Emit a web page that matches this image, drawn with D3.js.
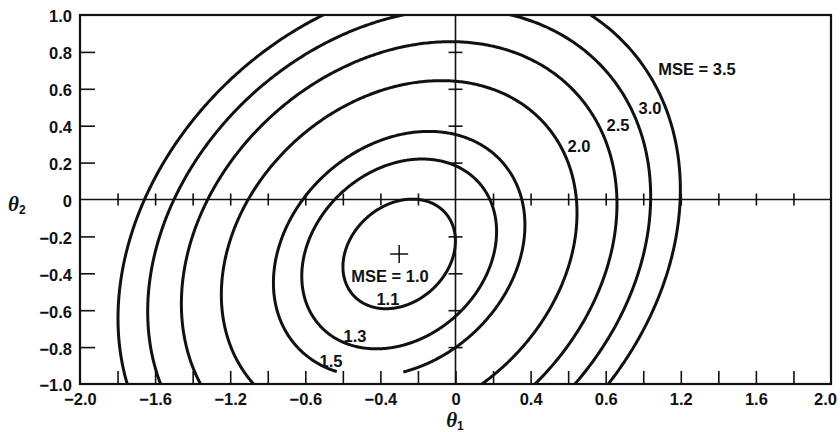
<!DOCTYPE html>
<html>
<head>
<meta charset="utf-8">
<script src="https://cdn.jsdelivr.net/npm/d3@7"></script>
<style>
  html, body { margin: 0; padding: 0; background: #fff; }
  svg { display: block; }
  .lbl { font-family: "Liberation Sans", Arial, Helvetica, sans-serif; font-weight: bold; fill: #111; }
</style>
</head>
<body>
<svg id="chart" width="840" height="432"></svg>
<script>
// Quadratic performance surface: MSE = mseMin + (θ − θ*)ᵀ H (θ − θ*)
const mseMin = 1.0;
const thetaStar = [-0.30, -0.295];
const hessianRow1 = [1.18, -0.28];
const hessianRow2 = [-0.28, 1.20];

// Contour levels drawn on the surface
const contourLevels = [1.1, 1.3, 1.5, 2.0, 2.5, 3.0, 3.5];
// Interrupted stretch of a contour's lower arc: [level, θ1 from, θ1 to]
const contourBreaks = [[1.5, -0.63, -0.28]];

// Contour annotations, anchored in (θ1, θ2)
const contourLabelText = ["MSE = 1.0", "1.1", "1.3", "1.5", "2.0", "2.5", "3.0", "MSE = 3.5"];
const contourLabelTheta1 = [-0.349, -0.36, -0.535, -0.663, 0.658, 0.866, 1.036, 1.286];
const contourLabelTheta2 = [-0.413, -0.538, -0.739, -0.875, 0.288, 0.402, 0.495, 0.707];

// Axis ticks and their printed labels
const xTickValues = [-2.0, -1.6, -1.2, -0.8, -0.4, 0, 0.4, 0.8, 1.2, 1.6, 2.0];
const xTickLabels = ["\u22122.0", "\u22121.6", "\u22121.2", "\u22120.6", "\u22120.4", "0", "0.4", "0.6", "1.2", "1.6", "2.0"];
const yTickValues = [1.0, 0.8, 0.6, 0.4, 0.2, 0, -0.2, -0.4, -0.6, -0.8, -1.0];
const yTickLabels = ["1.0", "0.8", "0.6", "0.4", "0.2", "0", "\u22120.2", "\u22120.4", "\u22120.6", "\u22120.8", "\u22121.0"];

const svg = d3.select("#chart");

const x = d3.scaleLinear().domain([-2, 2]).range([80, 831]);
const y = d3.scaleLinear().domain([-1, 1]).range([384, 15]);

// minor ticks every 0.2 (interior only)
const near = (a, b) => Math.abs(a - b) < 1e-9;
const xMinor = x.ticks(20).filter(v => !near(Math.abs(v), 2));
const xMinorNoZero = xMinor.filter(v => !near(v, 0));
const yMinor = y.ticks(10).filter(v => !near(Math.abs(v), 1) && !near(v, 0));

svg.append("clipPath").attr("id", "plotClip")
  .append("rect")
  .attr("x", x(-2)).attr("y", y(1))
  .attr("width", x(2) - x(-2)).attr("height", y(-1) - y(1));

function styleAxis(g, width) {
  g.select(".domain").remove();
  g.selectAll(".tick line").attr("stroke", "#111").attr("stroke-width", width);
}

// Axis lines through θ1 = 0 and θ2 = 0, with ticks crossing them
const zeroH = svg.append("g");
zeroH.append("line")
  .attr("x1", x(-2)).attr("x2", x(2)).attr("y1", y(0)).attr("y2", y(0))
  .attr("stroke", "#111").attr("stroke-width", 1.6);
zeroH.append("g").attr("transform", `translate(0,${y(0)})`)
  .call(d3.axisBottom(x).tickValues(xMinorNoZero).tickSize(6).tickFormat(""))
  .call(g => styleAxis(g, 1.6));
zeroH.append("g").attr("transform", `translate(0,${y(0)})`)
  .call(d3.axisTop(x).tickValues(xMinorNoZero).tickSize(6).tickFormat(""))
  .call(g => styleAxis(g, 1.6));

const zeroV = svg.append("g");
zeroV.append("line")
  .attr("x1", x(0)).attr("x2", x(0)).attr("y1", y(1)).attr("y2", y(-1))
  .attr("stroke", "#111").attr("stroke-width", 1.6);
zeroV.append("g").attr("transform", `translate(${x(0)},0)`)
  .call(d3.axisLeft(y).tickValues(yMinor).tickSize(7).tickFormat(""))
  .call(g => styleAxis(g, 1.6));
zeroV.append("g").attr("transform", `translate(${x(0)},0)`)
  .call(d3.axisRight(y).tickValues(yMinor).tickSize(7).tickFormat(""))
  .call(g => styleAxis(g, 1.6));

// Inward ticks on the bottom and left edges of the frame
svg.append("g").attr("transform", `translate(0,${y(-1)})`)
  .call(d3.axisTop(x).tickValues(xMinor).tickSize(13).tickFormat(""))
  .call(g => styleAxis(g, 1.6));
svg.append("g").attr("transform", `translate(${x(-2)},0)`)
  .call(d3.axisRight(y).tickValues(yMinor).tickSize(15).tickFormat(""))
  .call(g => styleAxis(g, 1.6));

// Tick labels
const xLab = svg.append("g").attr("transform", `translate(0,${y(-1)})`)
  .call(d3.axisBottom(x).tickValues(xTickValues).tickSize(0).tickPadding(9)
    .tickFormat((d, i) => xTickLabels[i]));
xLab.select(".domain").remove();
xLab.selectAll("text").attr("class", "lbl").attr("font-size", 16.5);
// keep the right-most label inside the page
xLab.selectAll(".tick").filter(d => near(d, 2)).select("text").attr("dx", -6);

const yLab = svg.append("g").attr("transform", `translate(${x(-2)},0)`)
  .call(d3.axisLeft(y).tickValues(yTickValues).tickSize(0).tickPadding(8)
    .tickFormat((d, i) => yTickLabels[i]));
yLab.select(".domain").remove();
yLab.selectAll("text").attr("class", "lbl").attr("font-size", 16.5).attr("dy", "0.42em");

// Contours of constant MSE, traced in polar form around θ*
const [h11, h12] = hessianRow1;
const h22 = hessianRow2[1];
const N = 720;
function contourPoints(level) {
  const k = level - mseMin;
  const pts = [];
  for (let i = 0; i <= N; i++) {
    const phi = (2 * Math.PI * i) / N;
    const c = Math.cos(phi), s = Math.sin(phi);
    const q = h11 * c * c + 2 * h12 * c * s + h22 * s * s;
    const r = Math.sqrt(k / q);
    pts.push([thetaStar[0] + r * c, thetaStar[1] + r * s]);
  }
  return pts;
}
const brk = new Map(contourBreaks.map(b => [b[0], [b[1], b[2]]]));
const contourGroup = svg.append("g").attr("clip-path", "url(#plotClip)");
contourLevels.forEach(level => {
  const gap = brk.get(level);
  const line = d3.line()
    .x(d => x(d[0])).y(d => y(d[1]))
    .defined(d => !(gap && d[1] < thetaStar[1] && d[0] > gap[0] && d[0] < gap[1]));
  contourGroup.append("path")
    .attr("d", line(contourPoints(level)))
    .attr("fill", "none")
    .attr("stroke", "#111")
    .attr("stroke-width", 3)
    .attr("stroke-linejoin", "round");
});

// Minimum of the surface
const cx = x(thetaStar[0]), cy = y(thetaStar[1]);
svg.append("path")
  .attr("d", `M${cx - 9},${cy}H${cx + 9}M${cx},${cy - 9}V${cy + 9}`)
  .attr("stroke", "#111").attr("stroke-width", 1.5).attr("fill", "none");

// Contour annotations
svg.append("g").selectAll("text")
  .data(contourLabelText)
  .join("text")
  .attr("class", "lbl")
  .attr("font-size", 16.5)
  .attr("text-anchor", "middle")
  .attr("x", (d, i) => x(contourLabelTheta1[i]))
  .attr("y", (d, i) => y(contourLabelTheta2[i]))
  .attr("dy", "0.36em")
  .text(d => d);

// Frame
svg.append("rect")
  .attr("x", x(-2)).attr("y", y(1))
  .attr("width", x(2) - x(-2)).attr("height", y(-1) - y(1))
  .attr("fill", "none").attr("stroke", "#111").attr("stroke-width", 2.2);

// Axis titles θ1 and θ2
function axisTitle(tx, ty, sub, anchor) {
  const t = svg.append("text").attr("x", tx).attr("y", ty).attr("text-anchor", anchor);
  t.append("tspan")
    .attr("font-family", "'Liberation Serif', 'DejaVu Serif', serif")
    .attr("font-style", "italic").attr("font-weight", "bold")
    .attr("font-size", 21).attr("fill", "#111")
    .text("\u03b8");
  t.append("tspan")
    .attr("class", "lbl")
    .attr("font-size", 12).attr("dy", 3)
    .text(sub);
}
axisTitle(8, 211, "2", "start");
axisTitle(455, 427, "1", "middle");
</script>
</body>
</html>
